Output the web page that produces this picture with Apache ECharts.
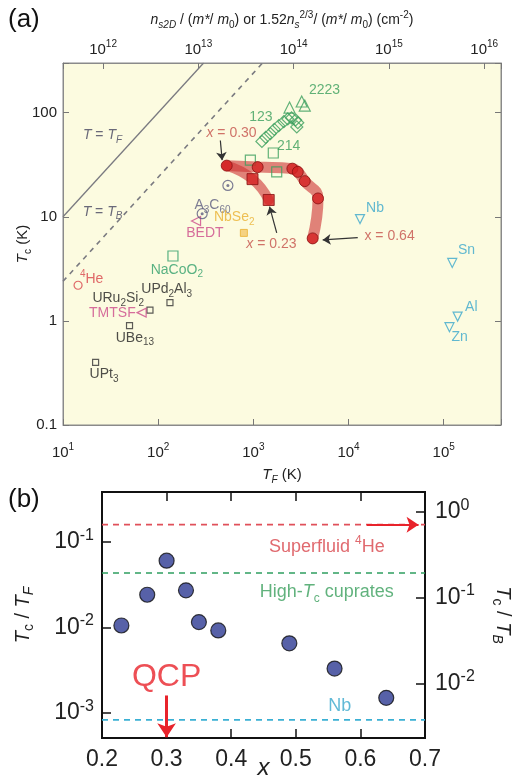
<!DOCTYPE html>
<html>
<head>
<meta charset="utf-8">
<script src="https://cdn.jsdelivr.net/npm/echarts@6/dist/echarts.min.js"></script>
<style>
  html, body { margin: 0; padding: 0; background: #fff; }
  #chart { width: 526px; height: 779px; }
</style>
</head>
<body>
<div id="chart"></div>
<script>
// ---- panel (a): Tc against TF, log-log ----
const lineTF = [[10, 10], [300, 300]];          // T = TF
const lineTB = [[10, 2.4], [1250, 300]];        // T = TB
const dopedCircles = [[525, 31], [1110, 30], [2570, 29], [2930, 27], [3470, 22], [4780, 15], [4200, 6.2]];
const dopedSquares = [[525, 31], [980, 23], [1450, 14.5]];
const cuprate123 = [[1230, 53], [1350, 58], [1510, 63], [1660, 69], [1850, 75], [2090, 82], [2300, 87], [2520, 89], [2780, 85], [2930, 80], [2860, 73]];
const cuprate2223 = [[2400, 112], [3220, 128], [3470, 117]];
const cuprate214 = [[930, 35], [1620, 41], [1760, 27]];
const metals = [[13200, 9.5], [123000, 3.6], [140000, 1.1], [115000, 0.87]];   // Nb Sn Al Zn
const heavyFermions = [[133, 1.5], [82, 1.27], [50, 0.9], [22, 0.4]];          // UPd2Al3 URu2Si2 UBe13 UPt3
const organics = [[67, 1.2], [250, 9.1]];                                      // TMTSF BEDT
const fullerenes = [[540, 20], [290, 10.7]];
const nbse2 = [[795, 7.0]];
const nacoo2 = [[143, 4.2]];
const helium4 = [[14.4, 2.2]];

// annotation text: [text, TF, Tc, colour key]
const notesA = [
  ['{i|T} = {i|T}{isub|F}', 26, 61, 'line'],
  ['{i|T} = {i|T}{isub|B}', 26, 11.2, 'line'],
  ['2223', 5600, 166, 'cup'],
  ['123', 1200, 91, 'cup'],
  ['214', 2350, 48, 'cup'],
  ['{i|x} = 0.30', 590, 63, 'dop'],
  ['{i|x} = 0.23', 1550, 5.5, 'dop'],
  ['x = 0.64', 27000, 6.5, 'dop'],
  ['Nb', 19000, 12.2, 'met'],
  ['Sn', 174000, 4.8, 'met'],
  ['Al', 195000, 1.36, 'met'],
  ['Zn', 147000, 0.70, 'met'],
  ['A{sub|3}C{sub|60}', 372, 13, 'ful'],
  ['BEDT', 310, 7.0, 'org'],
  ['NbSe{sub|2}', 630, 10, 'nbse'],
  ['NaCoO{sub|2}', 157, 3.1, 'naco'],
  ['{sup|4}He', 20, 2.5, 'he'],
  ['URu{sub|2}Si{sub|2}', 38, 1.66, 'hf'],
  ['UPd{sub|2}Al{sub|3}', 123, 2.0, 'hf'],
  ['TMTSF', 33, 1.19, 'org'],
  ['UBe{sub|13}', 57, 0.69, 'hf'],
  ['UPt{sub|3}', 27, 0.31, 'hf']
];
// arrows [from, to]
const arrowsA = [
  [[450, 54], [470, 35]],
  [[1760, 7.0], [1480, 12.5]],
  [[12500, 6.3], [5350, 6.0]]
];

// ---- panel (b): Tc/TF against x ----
const xDoping = [0.23, 0.27, 0.30, 0.33, 0.35, 0.38, 0.49, 0.56, 0.64];
const tcOverTf = [0.0105, 0.024, 0.060, 0.027, 0.0115, 0.0092, 0.0065, 0.0033, 0.0015];
const refHe = 0.158, refCuprate = 0.043, refNb = 0.00083;
const notesB = [
  ['Superfluid {sup|4}He', 0.548, 0.0875, 'he'],
  ['High-{i|T}{sub|c} cuprates', 0.548, 0.0255, 'cup'],
  ['Nb', 0.568, 0.0012, 'met'],
  ['QCP', 0.30, 0.0026, 'qcp']
];
const heArrow = [[0.61, refHe], [0.69, refHe]];
const qcpArrow = [[0.30, 0.0016], [0.30, 0.00052]];

const FONT = '"Liberation Sans", Arial, sans-serif';
const colors = {
  line: '#45455f', cup: '#3a9f5c', dop: '#c4504a', met: '#3aa8cc', ful: '#5c5c80',
  org: '#cc4a8a', nbse: '#eab030', naco: '#2f9f6a', he: '#d8444a', hf: '#222',
  qcp: '#e8232b'
};

function richSet(fs) {
  const small = Math.round(fs * 0.68);
  return {
    i: { fontStyle: 'italic', fontSize: fs, lineHeight: fs + 6 },
    sub: { fontSize: small, lineHeight: small, verticalAlign: 'bottom' },
    isub: { fontSize: small, lineHeight: small, verticalAlign: 'bottom', fontStyle: 'italic' },
    sup: { fontSize: small, lineHeight: small, verticalAlign: 'top' },
    b: { fontSize: fs, lineHeight: fs + 6 }
  };
}

function isDecade(v) {
  const l = Math.log10(v);
  return Math.abs(l - Math.round(l)) < 1e-6;
}
function powLabel(v) {
  return isDecade(v) ? '{b|10}{sup|' + Math.round(Math.log10(v)) + '}' : '';
}
function plainLabel(v) {
  return isDecade(v) ? String(Number(v.toPrecision(1))) : '';
}

function noteSeries(notes, xi, yi, fs) {
  return notes.map(n => {
    const size = n[3] === 'qcp' ? 32 : fs;
    return {
      type: 'scatter', xAxisIndex: xi, yAxisIndex: yi, symbolSize: 0, z: 6,
      data: [[n[1], n[2]]], silent: true,
      label: {
        show: true, position: 'inside', formatter: n[0],
        color: colors[n[3]], fontFamily: FONT,
        fontSize: size, lineHeight: size + 6, rich: richSet(size)
      }
    };
  });
}

function arrowSeries(pairs, xi, yi, color, width, size) {
  return {
    type: 'line', xAxisIndex: xi, yAxisIndex: yi, data: [], z: 7,
    markLine: {
      silent: true, symbol: ['none', 'arrow'], symbolSize: size,
      lineStyle: { color: color, width: width, type: 'solid' },
      label: { show: false },
      data: pairs.map(p => [{ coord: p[0] }, { coord: p[1] }])
    }
  };
}

function hollow(data, symbol, size, color, rotate) {
  return {
    type: 'scatter', xAxisIndex: 0, yAxisIndex: 0, data: data, symbol: symbol,
    symbolSize: size, symbolRotate: rotate || 0, z: 4,
    itemStyle: { color: 'rgba(0,0,0,0)', borderColor: color, borderWidth: 1.2 }
  };
}

const axisA = { lineStyle: { color: '#8a8a8a', width: 1 } };
const axisB = { lineStyle: { color: '#111', width: 2 } };
const tickA = { show: true, inside: true, length: 6, lineStyle: { color: '#777' } };
const tickB = { show: true, inside: true, length: 9, lineStyle: { color: '#111', width: 1.5 } };

const option = {
  animation: false,
  textStyle: { fontFamily: FONT },
  graphic: [
    { type: 'text', left: 8, top: 7, style: { text: '(a)', font: '26px ' + FONT, fill: '#111' } },
    { type: 'text', left: 8, top: 487, style: { text: '(b)', font: '26px ' + FONT, fill: '#111' } }
  ],
  grid: [
    { left: 63, top: 63, width: 438, height: 362, show: true, backgroundColor: '#fcfbe0',
      borderColor: '#8a8a8a', borderWidth: 1, outerBoundsMode: 'none', containLabel: false },
    { left: 102, top: 492, width: 323, height: 246, show: true, backgroundColor: '#fff',
      borderColor: '#111', borderWidth: 2, outerBoundsMode: 'none', containLabel: false }
  ],
  xAxis: [
    {
      gridIndex: 0, type: 'log', min: 10, max: 400000, position: 'bottom',
      axisLine: axisA, axisTick: tickA, splitLine: { show: false },
      axisLabel: { formatter: powLabel, fontSize: 15, color: '#222', margin: 17, rich: richSet(15) },
      name: '{i|T}{isub|F} (K)', nameLocation: 'middle', nameGap: 39, nameMoveOverlap: false,
      nameTextStyle: { fontSize: 15, color: '#222', rich: richSet(15) }
    },
    {
      gridIndex: 0, type: 'log', min: 3.8e11, max: 1.5e16, position: 'top',
      axisLine: axisA, axisTick: tickA, splitLine: { show: false },
      axisLabel: { formatter: powLabel, fontSize: 15, color: '#222', margin: 3, rich: richSet(15) },
      name: '{i|n}{isub|s2D} / ({i|m*}/ {i|m}{sub|0}) or 1.52{i|n}{isub|s}{sup|2/3}/ ({i|m*}/ {i|m}{sub|0}) (cm{sup|-2})',
      nameLocation: 'middle', nameGap: 33, nameMoveOverlap: false,
      nameTextStyle: { fontSize: 14, color: '#222', rich: richSet(14) }
    },
    {
      gridIndex: 1, type: 'value', min: 0.2, max: 0.7, interval: 0.1, position: 'bottom',
      axisLine: axisB, axisTick: tickB, splitLine: { show: false },
      axisLabel: { fontSize: 23, color: '#222', margin: 10, formatter: v => v.toFixed(1) },
      name: 'x', nameLocation: 'middle', nameGap: 18, nameMoveOverlap: false,
      nameTextStyle: { fontSize: 24, fontStyle: 'italic', color: '#222' }
    },
    {
      gridIndex: 1, type: 'value', min: 0.2, max: 0.7, interval: 0.1, position: 'top',
      axisLine: axisB, axisTick: tickB, axisLabel: { show: false }, splitLine: { show: false }
    }
  ],
  yAxis: [
    {
      gridIndex: 0, type: 'log', min: 0.1, max: 300, position: 'left',
      axisLine: axisA, axisTick: tickA, splitLine: { show: false },
      axisLabel: { formatter: plainLabel, fontSize: 15, color: '#222', margin: 6 },
      name: '{i|T}{sub|c} (K)', nameLocation: 'middle', nameGap: 30, nameRotate: 90, nameMoveOverlap: false,
      nameTextStyle: { fontSize: 15, color: '#222', rich: richSet(15) }
    },
    {
      gridIndex: 0, type: 'log', min: 0.1, max: 300, position: 'right',
      axisLine: axisA, axisTick: tickA, axisLabel: { show: false }, splitLine: { show: false }
    },
    {
      gridIndex: 1, type: 'log', min: 0.00051, max: 0.38, position: 'left',
      axisLine: axisB, axisTick: tickB, splitLine: { show: false },
      axisLabel: { formatter: powLabel, fontSize: 23, color: '#222', margin: 8, rich: richSet(23) },
      name: '{i|T}{sub|c} / {i|T}{isub|F}', nameLocation: 'middle', nameGap: 66, nameRotate: 90, nameMoveOverlap: false,
      nameTextStyle: { fontSize: 20, color: '#222', rich: richSet(20) }
    },
    {
      gridIndex: 1, type: 'log', min: 0.0023, max: 1.7, position: 'right',
      axisLine: axisB, axisTick: tickB, splitLine: { show: false },
      axisLabel: { formatter: powLabel, fontSize: 23, color: '#222', margin: 10, rich: richSet(23) },
      name: '{i|T}{sub|c} / {i|T}{isub|B}', nameLocation: 'middle', nameGap: 65, nameRotate: -90, nameMoveOverlap: false,
      nameTextStyle: { fontSize: 20, color: '#222', rich: richSet(20) }
    }
  ],
  series: [
    // reference lines in (a)
    { type: 'line', xAxisIndex: 0, yAxisIndex: 0, data: lineTF, symbol: 'none', z: 2,
      lineStyle: { color: '#7a7a80', width: 1.3 } },
    { type: 'line', xAxisIndex: 0, yAxisIndex: 0, data: lineTB, symbol: 'none', z: 2,
      lineStyle: { color: '#7a7a80', width: 1.6, type: [5, 5] } },
    // thick guides under the doped points
    { type: 'line', xAxisIndex: 0, yAxisIndex: 0, data: dopedCircles, symbol: 'none', smooth: 0.5, z: 3,
      lineStyle: { color: 'rgba(205,50,50,0.6)', width: 11, cap: 'round' } },
    { type: 'line', xAxisIndex: 0, yAxisIndex: 0, data: dopedSquares, symbol: 'none', smooth: 0.5, z: 3,
      lineStyle: { color: 'rgba(205,50,50,0.6)', width: 10, cap: 'round' } },
    // cuprates
    hollow(cuprate123, 'diamond', 12, colors.cup),
    hollow(cuprate2223, 'triangle', 11, colors.cup),
    hollow(cuprate214, 'rect', 10, colors.cup),
    // other materials
    hollow(metals, 'triangle', 9, colors.met, 180),
    hollow(heavyFermions, 'rect', 6, '#333'),
    hollow(organics, 'triangle', 9, colors.org, 90),
    hollow(fullerenes, 'circle', 10, colors.ful),
    { type: 'scatter', xAxisIndex: 0, yAxisIndex: 0, data: fullerenes, symbolSize: 3, z: 5,
      itemStyle: { color: colors.ful } },
    hollow(nacoo2, 'rect', 10, colors.naco),
    hollow(helium4, 'circle', 8, colors.he),
    { type: 'scatter', xAxisIndex: 0, yAxisIndex: 0, data: nbse2, symbol: 'rect', symbolSize: 7, z: 4,
      itemStyle: { color: '#f3c86a', borderColor: colors.nbse, borderWidth: 1 } },
    // doped points
    { type: 'scatter', xAxisIndex: 0, yAxisIndex: 0, data: dopedSquares.slice(1), symbol: 'rect', symbolSize: 11, z: 5,
      itemStyle: { color: '#d42222', borderColor: '#8a1010', borderWidth: 1 } },
    { type: 'scatter', xAxisIndex: 0, yAxisIndex: 0, data: dopedCircles, symbol: 'circle', symbolSize: 11, z: 5,
      itemStyle: { color: '#d42222', borderColor: '#8a1010', borderWidth: 1 } },
    arrowSeries(arrowsA, 0, 0, '#333', 1.2, 8),
    ...noteSeries(notesA, 0, 0, 14),

    // panel (b) reference lines
    { type: 'line', xAxisIndex: 2, yAxisIndex: 2, data: [[0.2, refHe], [0.7, refHe]], symbol: 'none', z: 2,
      lineStyle: { color: '#e0505a', width: 1.6, type: [6, 5] } },
    { type: 'line', xAxisIndex: 2, yAxisIndex: 2, data: [[0.2, refCuprate], [0.7, refCuprate]], symbol: 'none', z: 2,
      lineStyle: { color: '#2f9f60', width: 1.6, type: [6, 5] } },
    { type: 'line', xAxisIndex: 2, yAxisIndex: 2, data: [[0.2, refNb], [0.7, refNb]], symbol: 'none', z: 2,
      lineStyle: { color: '#3ab0d4', width: 1.6, type: [6, 5] } },
    { type: 'scatter', xAxisIndex: 2, yAxisIndex: 2, data: xDoping.map((x, i) => [x, tcOverTf[i]]),
      symbol: 'circle', symbolSize: 15, z: 5,
      itemStyle: { color: '#2d3a92', borderColor: '#111', borderWidth: 1.2 } },
    arrowSeries([heArrow], 2, 2, '#e8232b', 2, 12),
    arrowSeries([qcpArrow], 2, 2, '#e8232b', 3, 14),
    ...noteSeries(notesB, 2, 2, 18)
  ]
};

const chart = echarts.init(document.getElementById('chart'));
chart.setOption(option);
</script>
</body>
</html>
